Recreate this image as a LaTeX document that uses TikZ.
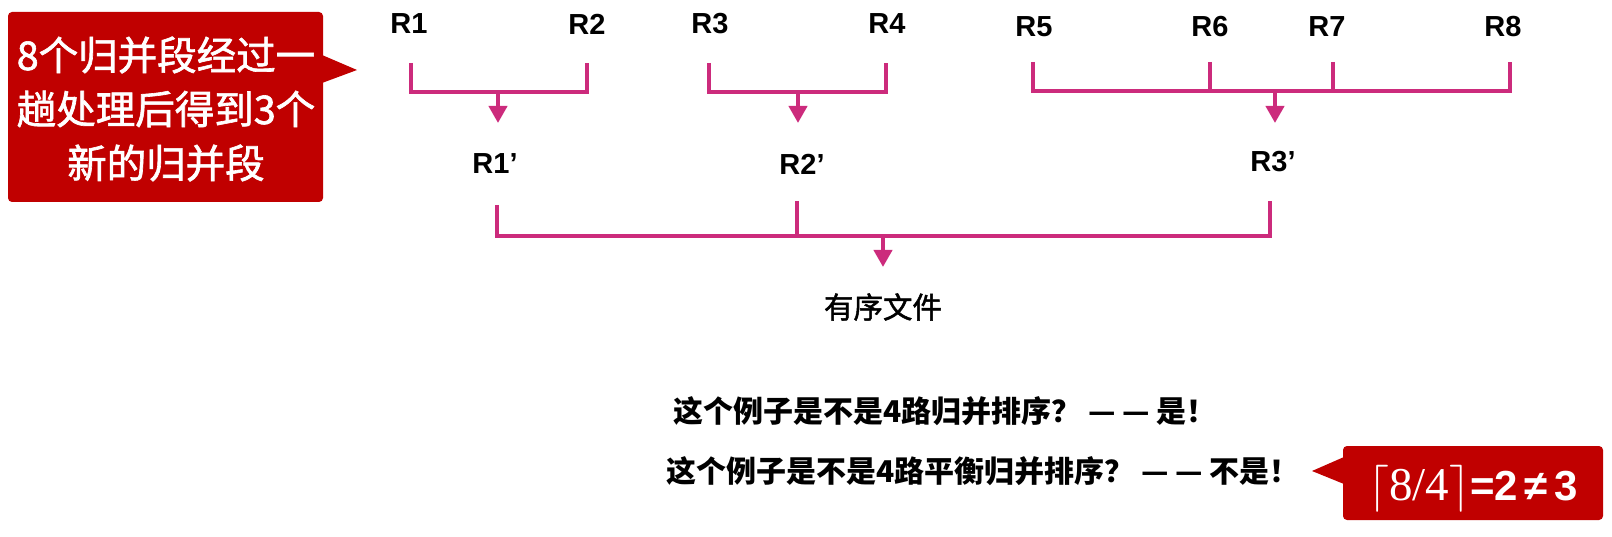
\documentclass[tikz,border=0pt]{standalone}
\usepackage{fix-cm}
\usepackage{fontspec}
\setmainfont{Liberation Sans}
\newfontfamily\cjk{Noto Sans CJK SC}
\newfontfamily\cjkm{Noto Sans CJK SC}[FakeBold=1.6]
\newfontfamily\serifnum{Liberation Serif}
\usetikzlibrary{arrows.meta}
\definecolor{brk}{RGB}{204,43,124}
\definecolor{boxred}{RGB}{192,0,0}
\tikzset{
  lbl/.style={font=\fontsize{29}{29}\selectfont\bfseries, inner sep=0pt},
  cjktext/.style={font=\cjk\bfseries\fontsize{30}{30}\selectfont, inner sep=0pt},
  br/.style={draw=brk, line width=4pt, line join=miter},
  arr/.style={draw=brk, line width=4pt, -{Triangle[width=18pt,length=17pt]}},
  callout/.style={fill=boxred, rounded corners=4pt},
}
\begin{document}
\begin{tikzpicture}[x=1pt,y=-1pt]
\useasboundingbox (0,0) rectangle (1612,537);
% left callout
\fill[boxred] (322,55) -- (357,70) -- (322,83) -- cycle;
\path[callout] (8,12) rectangle (323,202);
\node[text=white, font=\cjkm\fontsize{39.5}{54}\selectfont, align=center, inner sep=0pt] (note1) at (166,109)
  {8个归并段经过一\\趟处理后得到3个\\新的归并段};
% top labels
\node[lbl] (R1) at (409,24) {R1};
\node[lbl] (R2) at (587,24) {R2};
\node[lbl] (R3) at (710,24) {R3};
\node[lbl] (R4) at (887,24) {R4};
\node[lbl] (R5) at (1034,27) {R5};
\node[lbl] (R6) at (1210,27) {R6};
\node[lbl] (R7) at (1327,27) {R7};
\node[lbl] (R8) at (1503,27) {R8};
% merged runs
\node[lbl] (R1p) at (495,164) {R1’};
\node[lbl] (R2p) at (802,164) {R2’};
\node[lbl] (R3p) at (1273,162) {R3’};
\node[font=\cjkm\fontsize{29.5}{30}\selectfont, inner sep=0pt] (out) at (883,307) {有序文件};
% bracket anchor points
\coordinate (a1) at (411,63); \coordinate (a2) at (587,63);
\coordinate (a3) at (709,63); \coordinate (a4) at (886,63);
\coordinate (a5) at (1033,62); \coordinate (a6) at (1210,62);
\coordinate (a7) at (1333,62); \coordinate (a8) at (1510,62);
\coordinate (t1) at (498,123); \coordinate (t2) at (798,123); \coordinate (t3) at (1275,123);
\coordinate (b1) at (497,205); \coordinate (b2) at (797,201); \coordinate (b3) at (1270,201);
\coordinate (t4) at (883,267);
% group 1
\draw[br] (a1) -- (a1 |- 0,92) -- (a2 |- 0,92) -- (a2);
\draw[arr] (t1 |- 0,92) -- (t1);
% group 2
\draw[br] (a3) -- (a3 |- 0,92) -- (a4 |- 0,92) -- (a4);
\draw[arr] (t2 |- 0,92) -- (t2);
% group 3
\draw[br] (a5) -- (a5 |- 0,91) -- (a8 |- 0,91) -- (a8);
\draw[br] (a6) -- (a6 |- 0,91);
\draw[br] (a7) -- (a7 |- 0,91);
\draw[arr] (t3 |- 0,91) -- (t3);
% final merge
\draw[br] (b1) -- (b1 |- 0,236) -- (b3 |- 0,236) -- (b3);
\draw[br] (b2) -- (b2 |- 0,236);
\draw[arr] (t4 |- 0,236) -- (t4);
% questions
\node[cjktext] (q1) at (945,411) {这个例子是不是4路归并排序？ — — 是！};
\node[cjktext] (q2) at (983,471) {这个例子是不是4路平衡归并排序？ — — 不是！};
% right callout
\fill[boxred] (1344,457) -- (1312,471) -- (1344,484) -- cycle;
\path[callout] (1343,446) rectangle (1603,520);
\node[text=white, inner sep=0pt, anchor=base west] (note2) at (1368,500)
  {{\fontsize{47}{47}\selectfont$\lceil$\serifnum 8/4$\rceil$}{\fontsize{42}{42}\selectfont\bfseries =2\,≠\,3}};
\end{tikzpicture}
\end{document}
